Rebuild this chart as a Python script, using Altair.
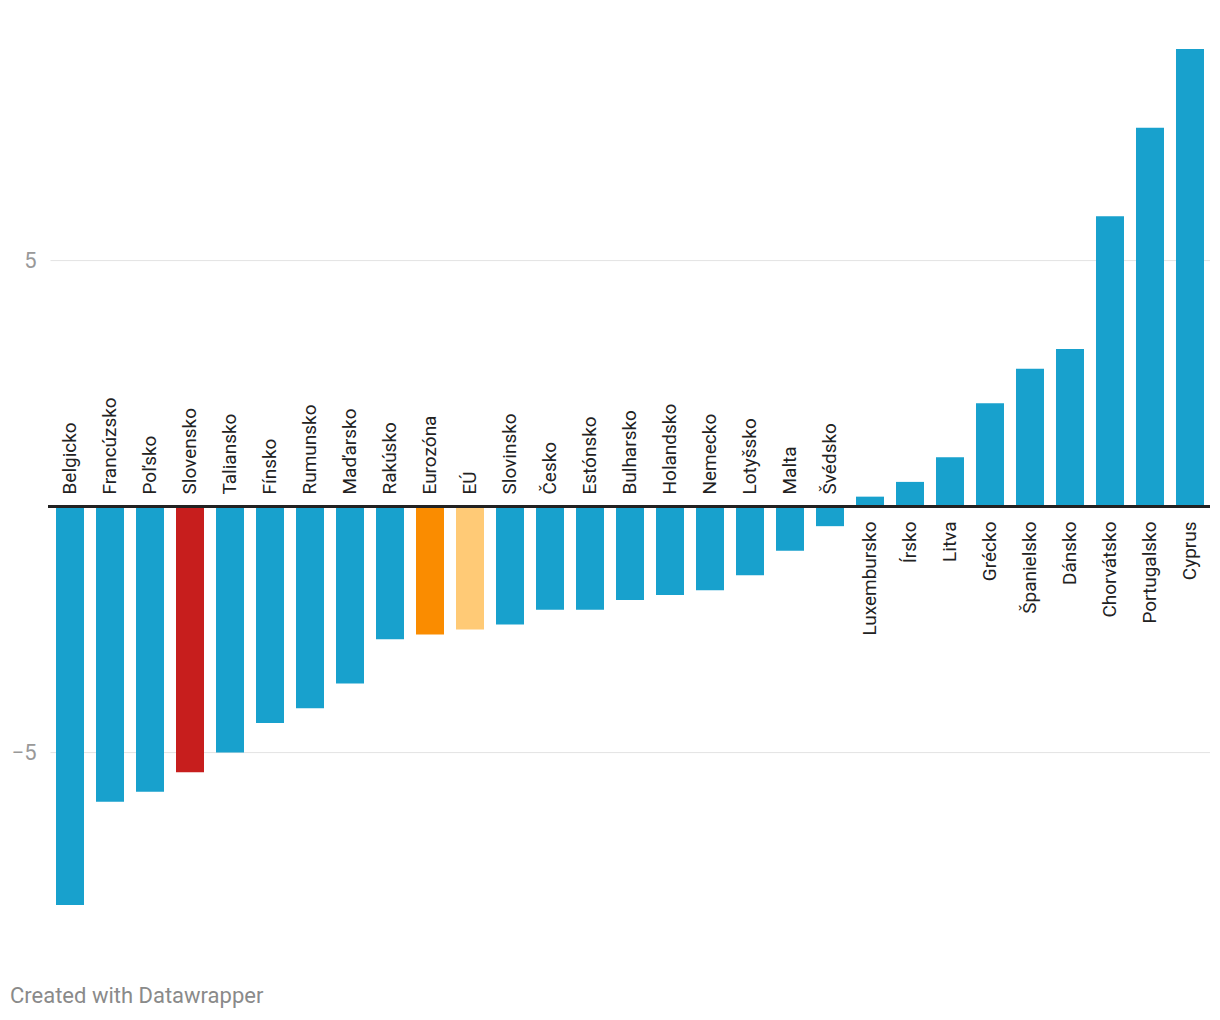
import altair as alt
import pandas as pd

countries = ["Belgicko", "Francúzsko", "Poľsko", "Slovensko", "Taliansko", "Fínsko",
             "Rumunsko", "Maďarsko", "Rakúsko", "Eurozóna", "EÚ", "Slovinsko", "Česko",
             "Estónsko", "Bulharsko", "Holandsko", "Nemecko", "Lotyšsko", "Malta", "Švédsko",
             "Luxembursko", "Írsko", "Litva", "Grécko", "Španielsko", "Dánsko",
             "Chorvátsko", "Portugalsko", "Cyprus"]
values = [-8.1, -6.0, -5.8, -5.4, -5.0, -4.4, -4.1, -3.6, -2.7, -2.6, -2.5, -2.4, -2.1,
          -2.1, -1.9, -1.8, -1.7, -1.4, -0.9, -0.4, 0.2, 0.5, 1.0, 2.1, 2.8, 3.2,
          5.9, 7.7, 9.3]
highlight = {"Slovensko": "#c71e1d", "Eurozóna": "#fa8c00", "EÚ": "#ffca76"}
base_color = "#18a1cd"
y_ticks = [-5, 5]
footer = "Created with Datawrapper"

df = pd.DataFrame({"country": countries, "value": values})
df["color"] = [highlight.get(c, base_color) for c in countries]

W = 1160
H = 885.6
FONT = "Roboto"

x = alt.X("country:N", sort=None, axis=None,
          scale=alt.Scale(paddingInner=0.3, paddingOuter=0.15))
yscale = alt.Scale(domain=[-8.5, 9.5], nice=False, zero=False)

bars = alt.Chart(df).mark_bar().encode(
    x=x,
    y=alt.Y("value:Q", scale=yscale, title=None,
            axis=alt.Axis(values=y_ticks, grid=True, gridColor="#e3e3e3", gridWidth=1,
                          domain=False, ticks=False, labelPadding=14,
                          labelFont=FONT, labelFontSize=22, labelColor="#999999")),
    y2=alt.datum(0),
    color=alt.Color("color:N", scale=None),
)

zero_rule = alt.Chart(df).mark_rule(color="#222222", strokeWidth=2.5).encode(
    y=alt.datum(0), x=alt.value(-2), x2=alt.value(W)
)

neg_labels = alt.Chart(df).transform_filter("datum.value < 0").mark_text(
    angle=270, align="left", baseline="middle", dx=12, font=FONT, fontSize=19,
    color="#222222"
).encode(x=x, y=alt.datum(0), text="country:N")

pos_labels = alt.Chart(df).transform_filter("datum.value >= 0").mark_text(
    angle=270, align="right", baseline="middle", dx=-15, font=FONT, fontSize=19,
    color="#222222"
).encode(x=x, y=alt.datum(0), text="country:N")

foot = alt.Chart(pd.DataFrame({"t": [footer]})).mark_text(
    align="left", baseline="middle", font=FONT, fontSize=22, color="#8a8a8a"
).encode(x=alt.value(-40), y=alt.value(H + 71), text="t:N")

chart = alt.layer(bars, zero_rule, neg_labels, pos_labels, foot).properties(
    width=W, height=H,
    background="white",
    autosize=alt.AutoSizeParams(type="none"),
    padding={"left": 42, "top": 31.1, "right": 0, "bottom": 85},
).configure_view(stroke=None, strokeWidth=0)

chart.save("out.html", embed_options={"renderer": "svg", "actions": False})
